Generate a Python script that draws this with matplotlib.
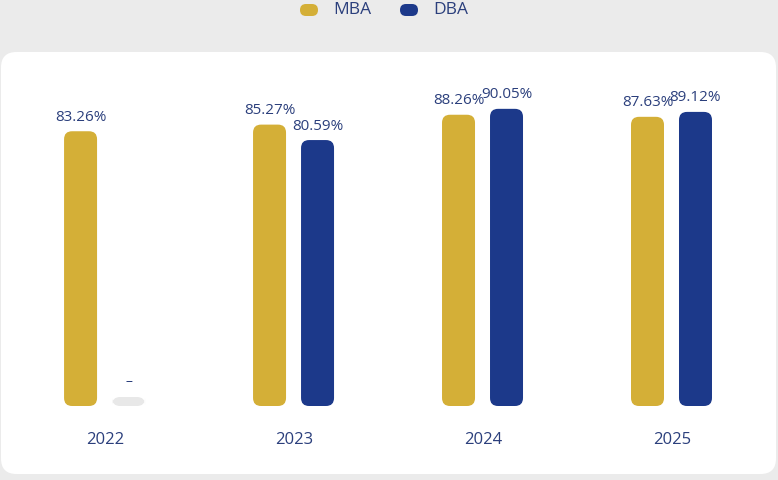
import matplotlib
matplotlib.use("Agg")
import matplotlib.pyplot as plt
from matplotlib.patches import FancyBboxPatch

years = ["2022", "2023", "2024", "2025"]
mba = [83.26, 85.27, 88.26, 87.63]
dba = [None, 80.59, 90.05, 89.12]

gold = "#d4af37"
navy = "#1c398a"
text_col = "#2b3f7c"

W, H = 778, 480
fig = plt.figure(figsize=(W / 100, H / 100), dpi=100)
fig.patch.set_facecolor("#ebebeb")

# white rounded panel (pixel coords -> figure coords)
panel = FancyBboxPatch((1 / W, (H - 474) / H), 775 / W, 422 / H,
                       boxstyle="round,pad=0,rounding_size=0.02",
                       mutation_aspect=W / H, transform=fig.transFigure,
                       facecolor="white", edgecolor="none", zorder=-5)
fig.patches.append(panel)

# legend
for cx, tx, lab, col in [(309, 333, "MBA", gold), (409, 433, "DBA", navy)]:
    pill = FancyBboxPatch(((cx - 9) / W, (H - 16) / H), 18 / W, 12 / H,
                          boxstyle="round,pad=0,rounding_size=0.0077",
                          mutation_aspect=W / H, transform=fig.transFigure,
                          facecolor=col, edgecolor="none")
    fig.patches.append(pill)
    fig.text(tx / W, (H - 10) / H, lab, color=text_col, fontsize=12.5,
             va="center", ha="left", family="Open Sans")

# axes: y=0 at pixel 406, y=100 at pixel 76
ax = fig.add_axes([10 / W, (H - 406) / H, 758 / W, 330 / H])
ax.set_zorder(5)
ax.set_xlim(-0.503, 3.508)
ax.set_ylim(0, 100)
ax.axis("off")

bw = 33 / 189
px_y = 3.3  # pixels per unit
aspect = 189 / px_y
rs = 8 / 189


def bar(xc, h, col):
    p = FancyBboxPatch((xc - bw / 2, 0), bw, h,
                       boxstyle=f"round,pad=0,rounding_size={rs}",
                       mutation_aspect=aspect, facecolor=col, edgecolor="none")
    ax.add_patch(p)


for i, yr in enumerate(years):
    xm = i - 24.5 / 189
    xd = i + 23.5 / 189
    bar(xm, mba[i], gold)
    ax.text(xm, mba[i] + 14 / px_y, f"{mba[i]:.2f}%", ha="center", va="center",
            color=text_col, fontsize=11, family="Open Sans")
    if dba[i] is None:
        bar(xd, 9 / px_y, "#e8e8e8")
        ax.text(xd, 25 / px_y, "–", ha="center", va="center",
                color=text_col, fontsize=10, family="Open Sans")
    else:
        bar(xd, dba[i], navy)
        ax.text(xd, dba[i] + 14 / px_y, f"{dba[i]:.2f}%", ha="center", va="center",
                color=text_col, fontsize=11, family="Open Sans")
    ax.text(i, -34 / px_y, yr, ha="center", va="center", color=text_col,
            fontsize=12, family="Open Sans", clip_on=False)

fig.savefig("out.png", dpi=100, facecolor=fig.get_facecolor())
